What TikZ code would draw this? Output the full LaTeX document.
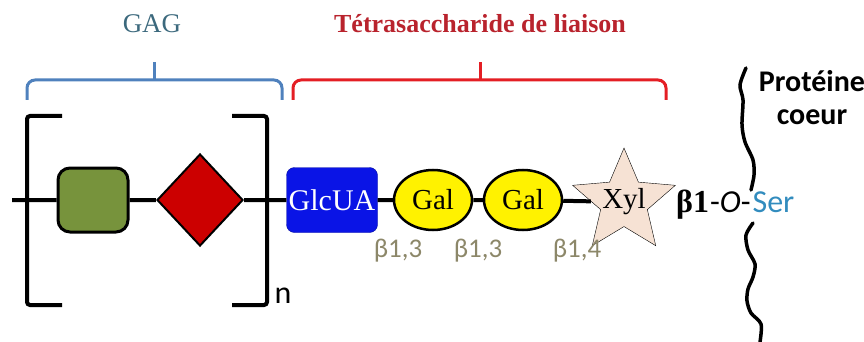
\documentclass[tikz,border=0pt]{standalone}
\usepackage{fontspec}
\setmainfont{Liberation Serif}
\setsansfont{Carlito}
\usetikzlibrary{shapes.geometric}

\definecolor{gagblue}{RGB}{79,129,189}
\definecolor{gagtext}{RGB}{60,105,125}
\definecolor{linkred}{RGB}{228,30,36}
\definecolor{linktext}{RGB}{185,35,45}
\definecolor{glcgreen}{RGB}{119,147,60}
\definecolor{idared}{RGB}{204,0,0}
\definecolor{glcblue}{RGB}{10,20,230}
\definecolor{xylfill}{RGB}{246,226,212}
\definecolor{bondgray}{RGB}{140,135,105}
\definecolor{serblue}{RGB}{50,140,190}

\newcommand{\tsize}[1]{\fontsize{#1}{#1}\selectfont}

\begin{document}
\begin{tikzpicture}[x=1pt,y=-1pt,
  chain/.style={line width=4pt},
  sq/.style={rectangle, rounded corners=12pt, draw, line width=3pt,
             fill=glcgreen, minimum width=70pt, minimum height=64pt},
  dia/.style={diamond, draw, line width=2pt, fill=idared, inner sep=0pt,
              minimum width=86pt, minimum height=92pt},
  glc/.style={rectangle, rounded corners=8pt, draw=glcblue!70!black,
              fill=glcblue, text=white, font=\tsize{30},
              minimum width=91pt, minimum height=65pt, inner sep=0pt},
  gal/.style={ellipse, draw, line width=2.5pt, fill=yellow,
              font=\tsize{29}, minimum width=78pt, minimum height=60pt,
              inner sep=0pt},
  xy/.style={star, star points=5, star point ratio=2.2, draw, thin,
             fill=xylfill, minimum size=108pt, inner sep=0pt},
  bond/.style={text=bondgray, font=\sffamily\tsize{27}},
  brk/.style={line width=4pt, rounded corners=3pt},
  brace/.style={line width=3pt, rounded corners=8pt}]
\useasboundingbox (0,0) rectangle (864,342);

% repeating unit and linkage region
\coordinate (start) at (12,200);
\node[sq]  (gn)   at (93,200)  {};
\node[dia] (ua)   at (200,200) {};
\node[glc] (glc)  at (332,200) {GlcUA};
\node[gal] (gal1) at (433,200) {Gal};
\node[gal] (gal2) at (523,200) {Gal};
\node[xy, label={[font=\tsize{29}]center:Xyl}] (xyl) at (624,202) {};
\draw[chain] (start) -- (gn) -- (ua) -- (glc) -- (gal1) -- (gal2) -- (xyl);

% bonds
\node[bond] (b1) at (398,251) {β1,3};
\node[bond] (b2) at (478,251) {β1,3};
\node[bond] (b3) at (577,251) {β1,4};
\node[anchor=west, inner sep=0pt] (ser) at (676,205)
  {\tsize{32}\textbf{β1}\sffamily\kern1pt-\textit{O}-\kern2pt\textcolor{serblue}{Ser}};

% square brackets
\draw[brk] (62,116) -- (27,116) -- (27,305) -- (62,305);
\draw[brk] (232,116) -- (267,116) -- (267,305) -- (232,305);
\node[font=\sffamily\tsize{32}] (n) at (283,296) {n};

% braces with titles
\draw[brace, gagblue] (27,100) -- (27,80) -- (282,80) -- (282,100);
\draw[gagblue, line width=3pt] (154,80) -- (154,62);
\node[text=gagtext, font=\tsize{27}] (gag) at (152,24) {GAG};
\draw[brace, linkred] (293,100) -- (293,80) -- (666,80) -- (666,100);
\draw[linkred, line width=3pt] (480,80) -- (480,62);
\node[text=linktext, font=\bfseries\tsize{26}] (tetra) at (480,24)
  {Tétrasaccharide de liaison};

% core protein
\draw[line width=3.5pt, line cap=round] plot[smooth] coordinates
  {(746,68) (740,85) (743,100) (742,125) (745,142) (753,160) (754,175) (751,190)};
\draw[line width=3.5pt, line cap=round] plot[smooth] coordinates
  {(753,223) (746,235) (748,250) (755,264) (753,277) (748,289) (747,301)
   (751,313) (761,324) (760,342)};
\node[font=\sffamily\bfseries\tsize{30}, align=center] (prot) at (812,98)
  {Protéine\\[3pt]coeur};
\end{tikzpicture}
\end{document}
